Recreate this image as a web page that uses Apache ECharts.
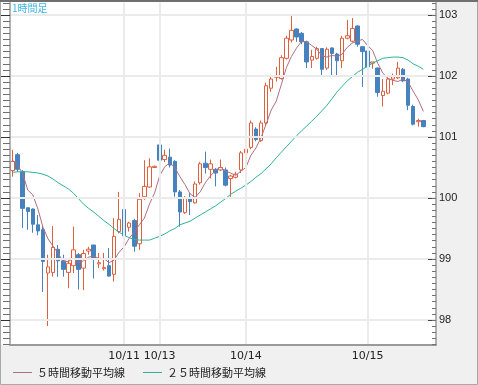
<!DOCTYPE html>
<html>
<head>
<meta charset="utf-8">
<script src="https://cdn.jsdelivr.net/npm/echarts@6/dist/echarts.min.js"></script>
<style>html,body{margin:0;padding:0;background:#f0f0f0}#c{width:478px;height:385px}</style>
</head>
<body>
<div id="c"></div>
<script>
// ---- data ----
const slotCount = 84;
const tickSlots = [22, 29, 46, 70];
const tickLabels = ['10/11', '10/13', '10/14', '10/15'];
const yMajor = [98, 99, 100, 101, 102, 103];

const opens = [100.45,100.71,100.43,99.84,99.82,99.56,99.48,98.77,98.78,99.16,
98.97,98.78,98.89,99.07,98.85,99.13,99.23,98.92,98.84,98.89,
98.75,99.45,99.81,99.52,99.63,99.25,100.02,100.18,100.50,100.87,
100.63,100.67,100.60,100.10,99.76,100.01,99.92,100.25,100.57,100.47,
100.47,100.46,100.46,100.32,100.34,100.46,100.74,100.83,101.13,100.94,
101.23,101.80,101.98,101.96,102.29,102.59,102.77,102.70,102.56,102.26,
102.29,102.45,102.13,102.46,102.36,102.25,102.62,102.57,102.82,102.48,
102.41,102.21,102.13,101.68,101.72,101.95,101.97,102.11,101.95,101.50,
101.25,101.27];
const highs = [100.79,100.74,100.46,99.85,99.83,99.72,99.54,99.07,99.54,99.23,
99.07,98.98,99.53,99.10,99.15,99.20,99.23,99.10,99.10,99.18,
99.67,100.10,99.82,99.61,99.66,100.08,100.62,100.65,100.53,101.10,
100.79,100.81,100.62,100.13,100.03,100.08,100.27,100.59,100.76,100.63,
100.49,100.63,100.50,100.38,100.43,100.77,100.85,101.27,101.16,101.27,
101.89,102.02,102.15,102.34,102.66,103.00,102.78,102.72,102.58,102.43,
102.48,102.46,102.47,102.47,102.38,102.66,102.92,102.95,102.83,102.49,
102.42,102.23,102.14,101.95,101.98,102.04,102.23,102.13,101.97,101.53,
101.30,101.28];
const lows = [100.35,100.43,99.51,99.48,99.43,99.39,98.46,97.90,98.71,98.71,
98.71,98.52,98.77,98.50,98.49,99.07,98.68,98.85,98.81,98.71,
98.63,99.42,99.31,99.45,99.12,99.15,99.97,100.17,100.49,100.55,
100.59,100.50,100.02,99.53,99.74,99.72,99.91,100.22,100.40,100.32,
100.19,100.44,100.19,100.00,100.32,100.41,100.72,100.80,100.93,100.92,
101.20,101.74,101.91,101.94,102.27,102.55,102.56,102.52,102.13,102.13,
102.27,101.99,102.10,102.00,102.01,102.13,102.60,102.55,102.48,101.82,
102.10,102.12,101.66,101.50,101.70,101.85,101.95,101.90,101.44,101.19,
101.17,101.16];
const closes = [100.60,100.47,99.83,99.78,99.57,99.46,98.96,98.87,99.19,98.97,
98.83,98.93,99.15,98.83,99.09,99.16,99.01,98.94,98.86,98.72,
99.37,99.65,99.38,99.59,99.21,99.98,100.19,100.51,100.52,100.62,
100.70,100.54,100.10,99.77,100.01,99.94,100.23,100.56,100.50,100.56,
100.41,100.50,100.21,100.36,100.39,100.74,100.80,101.23,100.96,101.23,
101.84,101.95,101.99,102.30,102.62,102.75,102.64,102.56,102.23,102.32,
102.45,102.11,102.44,102.37,102.25,102.62,102.66,102.78,102.52,102.40,
102.15,102.23,101.73,101.75,101.95,101.99,102.13,101.92,101.52,101.21,
101.27,101.17];
const ma5 = [100.62,100.54,100.40,100.13,100.05,99.82,99.52,99.33,99.21,99.09,
98.96,98.96,99.01,98.94,98.97,99.03,99.05,99.01,99.01,98.94,
98.98,99.11,99.20,99.34,99.44,99.56,99.67,99.90,100.08,100.36,
100.51,100.58,100.50,100.35,100.22,100.07,100.01,100.10,100.25,100.36,
100.45,100.51,100.44,100.41,100.37,100.44,100.50,100.70,100.82,100.99,
101.21,101.44,101.59,101.86,102.14,102.32,102.46,102.57,102.56,102.50,
102.44,102.33,102.31,102.34,102.32,102.36,102.47,102.54,102.57,102.60,
102.50,102.42,102.21,102.05,101.96,101.93,101.91,101.95,101.90,101.75,
101.61,101.42];
const ma25 = [100.42,100.43,100.43,100.43,100.42,100.41,100.39,100.36,100.31,100.25,
100.20,100.15,100.08,99.99,99.90,99.83,99.77,99.70,99.63,99.57,
99.50,99.44,99.39,99.35,99.32,99.31,99.31,99.31,99.34,99.37,
99.41,99.46,99.50,99.56,99.59,99.62,99.67,99.72,99.77,99.82,
99.87,99.93,99.99,100.06,100.11,100.16,100.21,100.27,100.34,100.40,
100.48,100.56,100.66,100.75,100.84,100.93,101.02,101.10,101.18,101.26,
101.34,101.43,101.52,101.63,101.74,101.83,101.92,101.99,102.06,102.11,
102.16,102.21,102.25,102.29,102.30,102.31,102.31,102.30,102.26,102.20,
102.16,102.11];

const titleText = '1時間足';
const ma5Name = '５時間移動平均線';
const ma25Name = '２５時間移動平均線';

// ---- chart ----
const categories = Array.from({length: slotCount}, (_, i) => String(i));
const candleData = opens.map((o, i) => [o, closes[i], lows[i], highs[i]]);
const Y_MIN = 97.6, Y_MAX = 103.2;

const chart = echarts.init(document.getElementById('c'), null, {renderer: 'canvas'});
const jp = '"Noto Sans CJK JP", sans-serif';

chart.setOption({
  animation: false,
  backgroundColor: '#f0f0f0',
  graphic: [
    {type: 'rect', z: -1, silent: true, shape: {x: 0, y: 0, width: 436, height: 344.4}, style: {fill: '#ffffff'}},
    {type: 'rect', z: 100, silent: true, shape: {x: 0.5, y: 0.5, width: 477, height: 384}, style: {fill: 'none', stroke: '#a8a8a8', lineWidth: 1}},
    {type: 'line', z: 101, silent: true, shape: {x1: 0, y1: 1, x2: 478, y2: 1}, style: {stroke: '#707070', lineWidth: 2}}
  ],
  title: {
    text: titleText, left: 12, top: 3, padding: 0,
    textStyle: {color: '#3cb4e6', fontSize: 10, fontWeight: 'normal', fontFamily: jp}
  },
  legend: {
    left: 13, top: 367, padding: 0,
    itemWidth: 19, itemHeight: 1, itemGap: 18, icon: 'rect',
    textStyle: {fontFamily: jp, fontSize: 11, color: '#222'},
    data: [ma5Name, ma25Name]
  },
  grid: {left: 10, right: 42, top: 2.8, bottom: 40.6, show: false},
  xAxis: {
    type: 'category', data: categories, boundaryGap: true, z: 6,
    axisLine: {show: true, lineStyle: {color: '#9a9a9a', width: 2}},
    axisTick: {show: false},
    splitLine: {show: false},
    axisLabel: {
      interval: (idx) => tickSlots.indexOf(idx) >= 0,
      formatter: (val, idx) => { const k = tickSlots.indexOf(Number(val)); return k >= 0 ? tickLabels[k] : ''; },
      color: '#222', fontSize: 11, margin: 6, fontFamily: '"DejaVu Sans", sans-serif'
    }
  },
  yAxis: [
    {
      type: 'value', position: 'right', min: Y_MIN, max: Y_MAX, z: 6,
      axisLine: {show: true, lineStyle: {color: '#9a9a9a', width: 1.5}},
      axisTick: {show: true, inside: true, length: 8, customValues: yMajor, lineStyle: {color: '#444', width: 1}},
      axisLabel: {customValues: yMajor, color: '#222', fontSize: 11, margin: 3, fontFamily: '"Liberation Sans", Arial, sans-serif'},
      splitLine: {show: false}
    },
    {
      type: 'value', position: 'right', min: Y_MIN, max: Y_MAX, interval: 0.1, z: 6,
      axisLine: {show: false},
      axisTick: {show: true, inside: true, length: 4, lineStyle: {color: '#707070', width: 1}},
      axisLabel: {show: false},
      splitLine: {show: false}
    },
    {
      type: 'value', position: 'left', min: Y_MIN, max: Y_MAX, interval: 0.1, z: 6,
      axisLine: {show: true, lineStyle: {color: '#9a9a9a', width: 1.5}},
      axisTick: {show: true, inside: false, length: 7, lineStyle: {color: '#707070', width: 1}},
      axisLabel: {show: false},
      splitLine: {show: false}
    },
    {
      type: 'value', position: 'left', min: Y_MIN, max: Y_MAX, z: 6,
      axisLine: {show: false},
      axisTick: {show: true, inside: false, length: 9, customValues: yMajor, lineStyle: {color: '#333', width: 1}},
      axisLabel: {show: false},
      splitLine: {show: false}
    }
  ],
  series: [
    {
      name: 'grid', type: 'line', data: [], z: 1, silent: true, yAxisIndex: 0,
      markLine: {
        silent: true, symbol: 'none', animation: false,
        label: {show: false},
        lineStyle: {color: '#ebebeb', width: 2, type: 'solid'},
        emphasis: {disabled: true},
        data: yMajor.map(v => ({yAxis: v})).concat(tickSlots.map(i => ({xAxis: categories[i]})))
      }
    },
    {
      name: 'candles', type: 'candlestick', data: candleData, z: 3, yAxisIndex: 0,
      barWidth: 4,
      itemStyle: {color: '#ffffff', color0: '#4682be', borderColor: '#e0603c', borderColor0: '#4682be', borderWidth: 1}
    },
    {
      name: ma5Name, type: 'line', data: ma5, z: 4, yAxisIndex: 0,
      symbol: 'none', smooth: false,
      lineStyle: {color: '#b06f80', width: 1},
      itemStyle: {color: '#b06f80'}
    },
    {
      name: ma25Name, type: 'line', data: ma25, z: 4, yAxisIndex: 0,
      symbol: 'none', smooth: false,
      lineStyle: {color: '#2db496', width: 1},
      itemStyle: {color: '#2db496'}
    }
  ]
});
</script>
</body>
</html>
